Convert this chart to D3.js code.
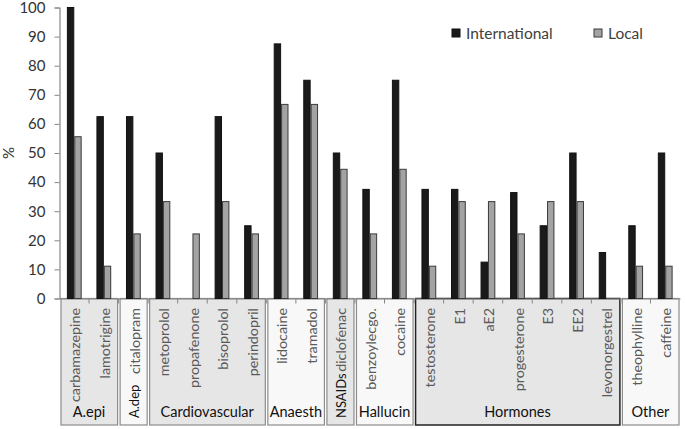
<!DOCTYPE html>
<html>
<head>
<meta charset="utf-8">
<script src="https://cdn.jsdelivr.net/npm/d3@7"></script>
<style>
  html, body { margin: 0; padding: 0; background: #fff; }
  svg { display: block; font-family: Lato, "Open Sans", sans-serif; }
</style>
</head>
<body>
<svg id="chart" width="685" height="429"></svg>
<script>
const categories = ["carbamazepine","lamotrigine","citalopram","metoprolol","propafenone","bisoprolol","perindopril","lidocaine","tramadol","diclofenac","benzoylecgo.","cocaine","testosterone","E1","aE2","progesterone","E3","EE2","levonorgestrel","theophylline","caffeine"];
const international = [100,62.5,62.5,50,0,62.5,25,87.5,75,50,37.5,75,37.5,37.5,12.5,36.4,25,50,15.8,25,50];
const local = [55.6,11.1,22.2,33.3,22.2,33.3,22.2,66.7,66.7,44.4,22.2,44.4,11.1,33.3,33.3,22.2,33.3,33.3,0,11.1,11.1];
const seriesNames = ["International","Local"];
const groupNames = ["A.epi","A.dep","Cardiovascular","Anaesth","NSAIDs","Hallucin","Hormones","Other"];
const groupSizes = [2,1,4,2,1,2,7,2];
const groupVertical = [false,true,false,false,true,false,false,false];
const groupShaded = [true,false,true,false,true,false,true,false];
const yTicks = [0,10,20,30,40,50,60,70,80,90,100];

const svg = d3.select("#chart");
const pLeft = 59.5, pRight = 680, pTop = 7.5, pBottom = 298.5;
const boxBottom = 425;

const x0 = d3.scaleBand().domain(categories).range([pLeft, pRight]).padding(0);
const x1 = d3.scaleBand().domain(seriesNames).range([x0.bandwidth()*0.25, x0.bandwidth()*0.75]);
const y = d3.scaleLinear().domain([0,100]).range([pBottom, pTop]);
const color = d3.scaleOrdinal().domain(seriesNames).range(["#1a1a1a","#a3a3a3"]);
const stroke = d3.scaleOrdinal().domain(seriesNames).range(["#111","#3a3a3a"]);

// group boxes
let start = 0;
const groups = groupNames.map((g,i) => {
  const cats = categories.slice(start, start + groupSizes[i]);
  start += groupSizes[i];
  return {name: g, cats, vertical: groupVertical[i], shaded: groupShaded[i]};
});
const gBoxes = svg.append("g");
groups.forEach(g => {
  const x_a = x0(g.cats[0]);
  const x_b = x0(g.cats[g.cats.length-1]) + x0.bandwidth();
  gBoxes.append("rect")
    .attr("x", x_a + 1.5).attr("y", pBottom)
    .attr("width", x_b - x_a - 2.5).attr("height", boxBottom - pBottom)
    .attr("fill", g.shaded ? "#e6e6e6" : "#f8f8f8")
    .attr("stroke", g.name === "Hormones" ? "#222" : "#8c8c8c")
    .attr("stroke-width", g.name === "Hormones" ? 1.5 : 1.2);
  if (g.vertical) {
    const cx = x0(g.cats[0]) + x0.bandwidth()/2 + 1;
    gBoxes.append("text")
      .attr("transform", `translate(${cx},${418}) rotate(-90)`)
      .attr("dy", "0.36em")
      .attr("text-anchor", "start")
      .attr("font-size", 13)
      .attr("fill", "#111")
      .text(g.name);
  } else {
    gBoxes.append("text")
      .attr("x", (x_a + x_b)/2).attr("y", 417)
      .attr("text-anchor", "middle")
      .attr("font-size", 14.5)
      .attr("fill", "#111")
      .text(g.name);
  }
});

// x axis with ticks
const xAxis = d3.axisBottom(x0).tickSize(0).tickFormat("");
svg.append("g").attr("transform", `translate(0,${pBottom})`).call(xAxis)
  .call(g => g.select(".domain").attr("stroke", "#868686").attr("stroke-width", 1.2));
svg.append("g").selectAll("line").data(categories.slice(1)).join("line")
  .attr("x1", d => x0(d)).attr("x2", d => x0(d))
  .attr("y1", pBottom).attr("y2", pBottom + 5)
  .attr("stroke", "#868686").attr("stroke-width", 1);

// category labels
svg.append("g").selectAll("text").data(categories).join("text")
  .attr("transform", d => `translate(${x0(d) + x0.bandwidth()/2 + 1},${308}) rotate(-90)`)
  .attr("dy", "0.36em")
  .attr("text-anchor", "end")
  .attr("font-size", 14.3)
  .attr("fill", "#5a5a5a")
  .text(d => d);

// y axis
const yAxis = d3.axisLeft(y).tickValues(yTicks).tickSize(5).tickPadding(9);
svg.append("g").attr("transform", `translate(${pLeft},0)`).call(yAxis)
  .call(g => g.select(".domain").attr("stroke", "#868686").attr("stroke-width", 1.2))
  .call(g => g.selectAll(".tick line").attr("stroke", "#868686"))
  .call(g => g.selectAll(".tick text").attr("font-size", 15).attr("fill", "#333").attr("font-family", "Lato, sans-serif"));

svg.append("text")
  .attr("transform", `translate(9,153) rotate(-90)`)
  .attr("text-anchor", "middle").attr("dy", "0.36em")
  .attr("font-size", 15).attr("fill", "#333")
  .text("%");

// bars
const rows = categories.map((c,i) => ({cat: c, values: [international[i], local[i]]}));
svg.append("g").selectAll("g").data(rows).join("g")
  .attr("transform", d => `translate(${x0(d.cat)},0)`)
  .selectAll("rect").data(d => seriesNames.map((s,j) => ({s, v: d.values[j]}))).join("rect")
  .filter(d => d.v > 0)
  .attr("x", d => x1(d.s) + 0.5).attr("width", x1.bandwidth() - 1)
  .attr("y", d => y(d.v)).attr("height", d => y(0) - y(d.v))
  .attr("fill", d => color(d.s)).attr("stroke", d => stroke(d.s)).attr("stroke-width", 1);

// legend
const legendPos = [452, 594];
const leg = svg.append("g");
seriesNames.forEach((s,i) => {
  leg.append("rect").attr("x", legendPos[i]).attr("y", 29).attr("width", 8).attr("height", 8)
    .attr("fill", color(s)).attr("stroke", stroke(s)).attr("stroke-width", 1);
  leg.append("text").attr("x", legendPos[i] + 14).attr("y", 38.5)
    .attr("font-size", 15.5).attr("fill", "#404040").text(s);
});
</script>
</body>
</html>
